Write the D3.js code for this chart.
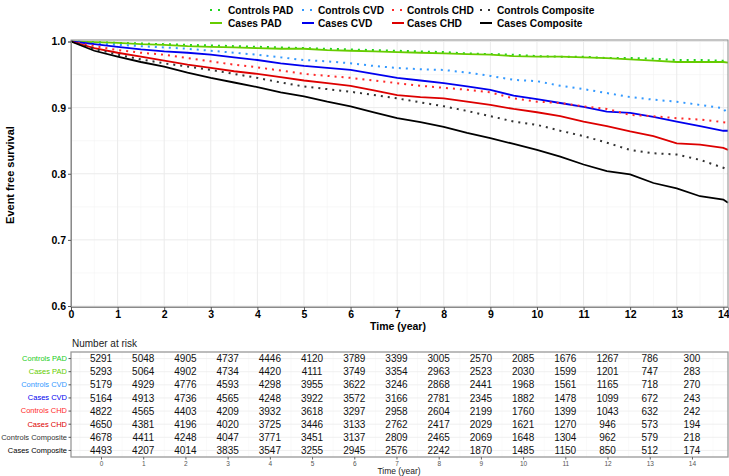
<!DOCTYPE html>
<html><head><meta charset="utf-8">
<script src="https://cdn.jsdelivr.net/npm/d3@7"></script>
<style>body{margin:0;background:#fff}svg{display:block;font-family:"Liberation Sans",Arial,sans-serif}</style>
</head><body><svg id="c" width="729" height="476"></svg>
<script>
const times = [0,0.5,1,1.5,2,2.5,3,3.5,4,4.5,5,5.5,6,6.5,7,7.5,8,8.5,9,9.5,10,10.5,11,11.5,12,12.5,13,13.5,14,14.1];
const controlsPAD = [1.0,0.999,0.998,0.997,0.996,0.995,0.994,0.993,0.992,0.991,0.990,0.989,0.988,0.987,0.986,0.985,0.984,0.982,0.981,0.980,0.978,0.977,0.977,0.975,0.975,0.974,0.972,0.972,0.971,0.971];
const casesPAD = [1.0,0.999,0.998,0.996,0.995,0.993,0.992,0.991,0.990,0.989,0.989,0.987,0.986,0.985,0.984,0.983,0.982,0.981,0.980,0.978,0.977,0.977,0.976,0.975,0.973,0.971,0.969,0.969,0.969,0.968];
const controlsCVD = [1.0,0.997,0.995,0.993,0.991,0.989,0.986,0.983,0.980,0.976,0.972,0.970,0.967,0.963,0.960,0.958,0.957,0.953,0.948,0.942,0.940,0.933,0.928,0.922,0.916,0.912,0.909,0.904,0.899,0.889];
const casesCVD = [1.0,0.996,0.992,0.988,0.985,0.983,0.980,0.976,0.972,0.967,0.963,0.960,0.957,0.951,0.945,0.941,0.937,0.932,0.927,0.918,0.913,0.907,0.901,0.894,0.892,0.886,0.879,0.872,0.865,0.865];
const controlsCHD = [1.0,0.993,0.987,0.983,0.980,0.975,0.970,0.965,0.961,0.956,0.951,0.948,0.945,0.941,0.937,0.933,0.930,0.927,0.923,0.914,0.909,0.907,0.902,0.898,0.889,0.887,0.884,0.882,0.878,0.877];
const casesCHD = [1.0,0.990,0.983,0.977,0.971,0.965,0.960,0.955,0.951,0.946,0.941,0.937,0.933,0.926,0.919,0.916,0.914,0.909,0.904,0.898,0.893,0.887,0.879,0.872,0.864,0.857,0.846,0.844,0.839,0.836];
const controlsComposite = [1.0,0.989,0.980,0.973,0.967,0.962,0.957,0.951,0.945,0.938,0.932,0.928,0.924,0.919,0.914,0.908,0.902,0.895,0.887,0.879,0.874,0.865,0.857,0.847,0.836,0.831,0.829,0.821,0.809,0.806];
const casesComposite = [1.0,0.986,0.977,0.969,0.962,0.953,0.945,0.938,0.931,0.923,0.917,0.909,0.902,0.893,0.884,0.878,0.871,0.862,0.854,0.845,0.836,0.826,0.814,0.804,0.799,0.786,0.778,0.766,0.761,0.756];

const seriesNames = ["Controls PAD","Cases PAD","Controls CVD","Cases CVD","Controls CHD","Cases CHD","Controls Composite","Cases Composite"];
const seriesValues = [controlsPAD,casesPAD,controlsCVD,casesCVD,controlsCHD,casesCHD,controlsComposite,casesComposite];
const seriesColors = ["#1fd41f","#66cc00","#3399ff","#0000ee","#ff2a2a","#dd0000","#333333","#000000"];
const seriesDotted = [true,false,true,false,true,false,true,false];

const riskYears = [0,1,2,3,4,5,6,7,8,9,10,11,12,13,14];
const riskPAD_controls = [5291,5048,4905,4737,4446,4120,3789,3399,3005,2570,2085,1676,1267,786,300];
const riskPAD_cases = [5293,5064,4902,4734,4420,4111,3749,3354,2963,2523,2030,1599,1201,747,283];
const riskCVD_controls = [5179,4929,4776,4593,4298,3955,3622,3246,2868,2441,1968,1561,1165,718,270];
const riskCVD_cases = [5164,4913,4736,4565,4248,3922,3572,3166,2781,2345,1882,1478,1099,672,243];
const riskCHD_controls = [4822,4565,4403,4209,3932,3618,3297,2958,2604,2199,1760,1399,1043,632,242];
const riskCHD_cases = [4650,4381,4196,4020,3725,3446,3133,2762,2417,2029,1621,1270,946,573,194];
const riskComposite_controls = [4678,4411,4248,4047,3771,3451,3137,2809,2465,2069,1648,1304,962,579,218];
const riskComposite_cases = [4493,4207,4014,3835,3547,3255,2945,2576,2242,1870,1485,1150,850,512,174];
const riskRows = [riskPAD_controls,riskPAD_cases,riskCVD_controls,riskCVD_cases,riskCHD_controls,riskCHD_cases,riskComposite_controls,riskComposite_cases];
const tableLabelColors = ["#22cc22","#66cc00","#3399ff","#0000ee","#ff2a2a","#dd0000","#333333","#000000"];

const xTicks = d3.range(0,15);
const yTicks = [0.6,0.7,0.8,0.9,1.0];

const svg = d3.select("#c");
const L = 71, R = 728, T = 40, B = 307;
const x = d3.scaleLinear().domain([0,14.1]).range([L,R]);
const y = d3.scaleLinear().domain([0.6,1.0]).range([306,41.5]);

// grid
const g = svg.append("g");
g.append("rect").attr("x",L).attr("y",T).attr("width",R-L).attr("height",B-T).attr("fill","#fff");
d3.range(0.5,14.1,1).forEach(v=>g.append("line").attr("x1",x(v)).attr("x2",x(v)).attr("y1",T).attr("y2",B).attr("stroke","#f3f3f3").attr("stroke-width",0.6));
[0.65,0.75,0.85,0.95].forEach(v=>g.append("line").attr("x1",L).attr("x2",R).attr("y1",y(v)).attr("y2",y(v)).attr("stroke","#f3f3f3").attr("stroke-width",0.6));
xTicks.forEach(v=>g.append("line").attr("x1",x(v)).attr("x2",x(v)).attr("y1",T).attr("y2",B).attr("stroke","#ebebeb").attr("stroke-width",1));
yTicks.forEach(v=>g.append("line").attr("x1",L).attr("x2",R).attr("y1",y(v)).attr("y2",y(v)).attr("stroke","#ebebeb").attr("stroke-width",1));

// curves
const line = d3.line().x(d=>x(d[0])).y(d=>y(d[1])).curve(d3.curveLinear);
seriesNames.forEach((n,i)=>{
  const pts = times.map((t,j)=>[t,seriesValues[i][j]]);
  svg.append("path").attr("d",line(pts)).attr("fill","none")
    .attr("stroke",seriesColors[i])
    .attr("stroke-width",seriesDotted[i]?2:1.8)
    .attr("stroke-dasharray",seriesDotted[i]?"2,5":null);
});

svg.append("rect").attr("x",L).attr("y",T).attr("width",R-L).attr("height",B-T).attr("fill","none").attr("stroke","#8a8a8a").attr("stroke-width",1);

// axes
const xa = svg.append("g").attr("transform",`translate(0,${B})`).call(d3.axisBottom(x).tickValues(xTicks).tickSize(3).tickPadding(1).tickFormat(d3.format("d")));
const ya = svg.append("g").attr("transform",`translate(${L},0)`).call(d3.axisLeft(y).tickValues(yTicks).tickSize(3).tickPadding(2).tickFormat(d3.format(".1f")));
[xa,ya].forEach(a=>{a.select(".domain").attr("stroke","#8a8a8a");a.selectAll(".tick line").attr("stroke","#555");
  a.selectAll("text").attr("fill","#000").attr("font-weight","bold").attr("font-size",10.5).attr("font-family","Liberation Sans, Arial, sans-serif");});

svg.append("text").attr("x",398).attr("y",330).attr("text-anchor","middle").attr("font-weight","bold").attr("font-size",10.5).text("Time (year)");
svg.append("text").attr("transform","translate(14,175) rotate(-90)").attr("text-anchor","middle").attr("font-weight","bold").attr("font-size",11).text("Event free survival");

// legend
const legX = [210,302,392,480];
seriesNames.forEach((n,i)=>{
  const col = Math.floor(i/2), row = i%2;
  const ly = row===0?10:23;
  const kx = legX[col];
  svg.append("line").attr("x1",kx).attr("x2",kx+12).attr("y1",ly).attr("y2",ly)
    .attr("stroke",seriesColors[i]).attr("stroke-width",2).attr("stroke-dasharray",seriesDotted[i]?"2,6":null);
  svg.append("text").attr("x",[228,318,407,497][col]).attr("y",ly+3.8).attr("font-weight","bold").attr("font-size",10.2).text(n);
});

// risk table
const TL = 71, TR = 728, TT = 352, TB = 457;
const tx = d3.scaleLinear().domain([-0.711,14.854]).range([TL,TR]);
const ty = d3.scaleBand().domain(seriesNames).range([TT,TB]);
svg.append("text").attr("x",72).attr("y",347).attr("font-size",10).attr("fill","#222").text("Number at risk");
svg.append("rect").attr("x",TL).attr("y",TT).attr("width",TR-TL).attr("height",TB-TT).attr("fill","#fff");
riskYears.forEach(v=>svg.append("line").attr("x1",tx(v)).attr("x2",tx(v)).attr("y1",TT).attr("y2",TB).attr("stroke","#ececec").attr("stroke-width",0.8));
d3.range(-0.5,15,1).forEach(v=>svg.append("line").attr("x1",tx(v)).attr("x2",tx(v)).attr("y1",TT).attr("y2",TB).attr("stroke","#f5f5f5").attr("stroke-width",0.5));
seriesNames.forEach(n=>svg.append("line").attr("x1",TL).attr("x2",TR).attr("y1",ty(n)+ty.bandwidth()/2).attr("y2",ty(n)+ty.bandwidth()/2).attr("stroke","#ececec").attr("stroke-width",0.8));
riskRows.forEach((r,i)=>{
  r.forEach((v,j)=>{
    svg.append("text").attr("x",tx(riskYears[j])).attr("y",ty(seriesNames[i])+ty.bandwidth()/2+3.6)
      .attr("text-anchor","middle").attr("font-size",10).attr("fill","#111").text(v);
  });
});
svg.append("rect").attr("x",TL).attr("y",TT).attr("width",TR-TL).attr("height",TB-TT).attr("fill","none").attr("stroke","#999").attr("stroke-width",1.3);
const tya = svg.append("g").attr("transform",`translate(${TL},0)`).call(d3.axisLeft(ty).tickSize(2.5).tickPadding(1.5));
tya.select(".domain").remove();
tya.selectAll(".tick line").attr("stroke","#555");
tya.selectAll("text").attr("font-size",7.5).attr("font-family","Liberation Sans, Arial, sans-serif").attr("fill",(d,i)=>tableLabelColors[i]);
const txa = svg.append("g").attr("transform",`translate(0,${TB})`).call(d3.axisBottom(tx).tickValues(riskYears).tickSize(2.5).tickPadding(2).tickFormat(d3.format("d")));
txa.select(".domain").remove();
txa.selectAll(".tick line").attr("stroke","#666");
txa.selectAll("text").attr("font-size",6.5).attr("fill","#555").attr("font-family","Liberation Sans, Arial, sans-serif");
svg.append("text").attr("x",399).attr("y",474).attr("text-anchor","middle").attr("font-size",8.5).attr("fill","#222").text("Time (year)");
</script></body></html>
